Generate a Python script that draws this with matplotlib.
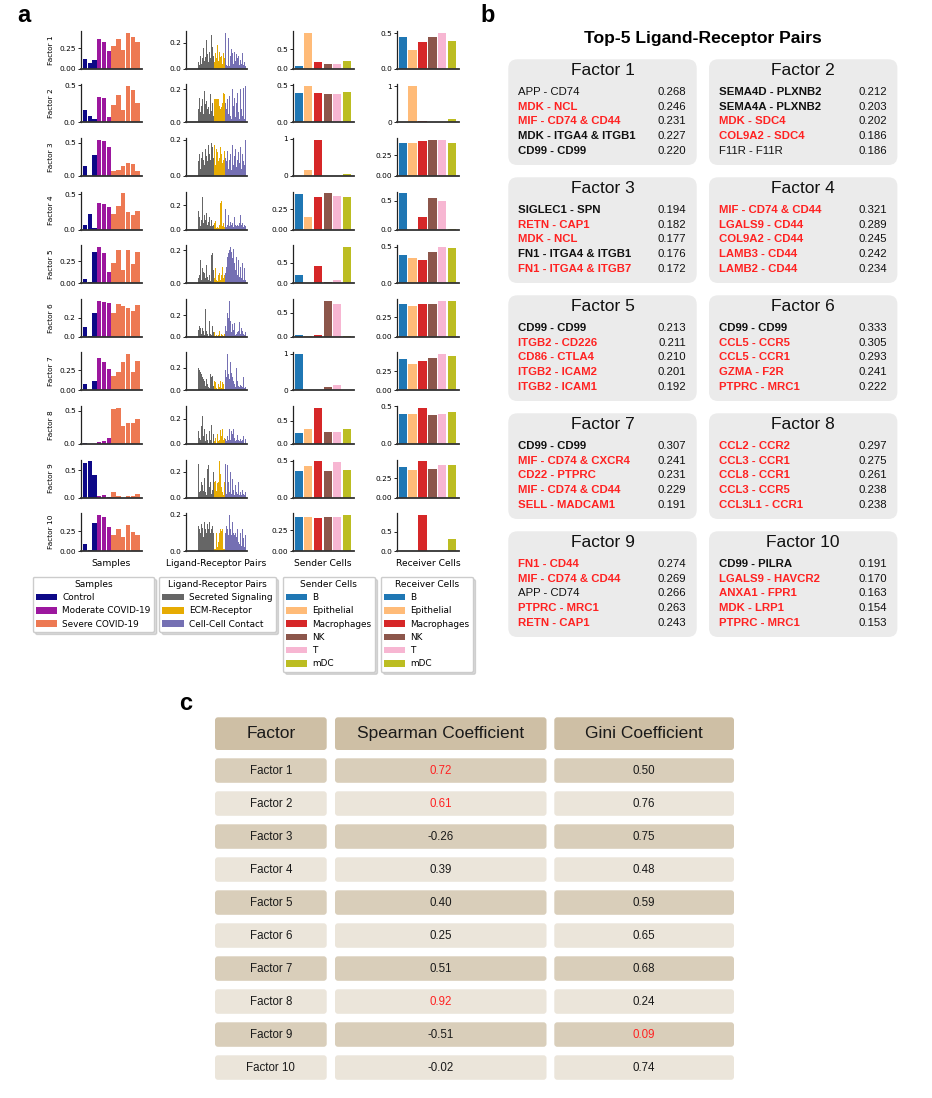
import matplotlib
matplotlib.use("Agg")
import matplotlib.pyplot as plt
from matplotlib.patches import FancyBboxPatch, Patch
from matplotlib.ticker import MaxNLocator

W, H = 932, 1098

# ---------------- panel a data ----------------
sample_groups = ["Control", "Moderate COVID-19", "Severe COVID-19"]
sample_colors = ["#0d0887", "#9c179e", "#ed7953"]
sample_group_of = [0, 0, 0, 1, 1, 1, 2, 2, 2, 2, 2, 2]

samples_loadings = [
    [0.12, 0.07, 0.10, 0.36, 0.33, 0.21, 0.27, 0.36, 0.23, 0.44, 0.39, 0.32],
    [0.17, 0.08, 0.045, 0.34, 0.33, 0.07, 0.23, 0.37, 0.17, 0.49, 0.44, 0.26],
    [0.15, 0.0, 0.31, 0.545, 0.525, 0.44, 0.076, 0.086, 0.15, 0.197, 0.177, 0.076],
    [0.06, 0.215, 0.02, 0.37, 0.36, 0.32, 0.22, 0.33, 0.51, 0.245, 0.21, 0.26],
    [0.046, 0.015, 0.36, 0.415, 0.35, 0.127, 0.23, 0.38, 0.15, 0.38, 0.22, 0.36],
    [0.098, 0.01, 0.245, 0.38, 0.36, 0.35, 0.245, 0.34, 0.32, 0.30, 0.27, 0.33],
    [0.08, 0.0, 0.117, 0.40, 0.354, 0.267, 0.18, 0.23, 0.354, 0.454, 0.23, 0.367],
    [0.01, 0.005, 0.005, 0.03, 0.046, 0.09, 0.53, 0.55, 0.275, 0.32, 0.32, 0.38],
    [0.634, 0.67, 0.41, 0.03, 0.04, 0.01, 0.10, 0.03, 0.0, 0.03, 0.03, 0.07],
    [0.093, 0.02, 0.36, 0.46, 0.43, 0.30, 0.20, 0.284, 0.18, 0.326, 0.24, 0.20],
]

lr_groups = ["Secreted Signaling", "ECM-Receptor", "Cell-Cell Contact"]
lr_colors = ["#666666", "#e6ab02", "#7570b3"]

# loadings in hundredths
lr_secreted = [
    [3, 2, 18, 4, 3, 2, 4, 5, 14, 22, 5, 3, 10, 4, 8, 16, 6, 9, 22, 11, 5, 13, 8, 26, 17, 10],
    [8, 10, 12, 0, 0, 0, 0, 9, 4, 13, 8, 15, 6, 10, 14, 5, 19, 11, 13, 8, 9, 5, 17, 7, 12, 4],
    [14, 4, 10, 8, 12, 5, 9, 11, 6, 14, 8, 12, 4, 10, 13, 9, 6, 15, 11, 8, 17, 12, 9, 18, 16, 10],
    [14, 4, 12, 10, 13, 6, 30, 9, 12, 4, 15, 10, 3, 8, 27, 5, 12, 8, 14, 4, 6, 10, 3, 8, 3, 4],
    [1, 0, 1, 13, 2, 3, 8, 4, 10, 12, 3, 5, 14, 2, 9, 7, 6, 3, 11, 4, 2, 5, 1, 17, 18, 8],
    [1, 2, 10, 1, 29, 3, 31, 2, 22, 10, 6, 10, 8, 3, 8, 5, 2, 26, 5, 3, 1, 15, 3, 2, 10, 4],
    [1, 1, 12, 1, 1, 11, 1, 1, 24, 22, 20, 18, 16, 14, 12, 10, 8, 4, 10, 6, 3, 2, 14, 12, 13, 4],
    [1, 0, 2, 5, 28, 12, 29, 24, 18, 20, 10, 5, 3, 14, 22, 6, 12, 2, 8, 3, 0, 10, 3, 15, 1, 8],
    [1, 4, 7, 2, 10, 3, 15, 5, 2, 12, 26, 4, 5, 12, 10, 5, 15, 4, 2, 22, 25, 8, 12, 3, 6, 20],
    [1, 15, 14, 15, 1, 14, 15, 13, 10, 15, 14, 12, 10, 15, 13, 8, 16, 12, 10, 15, 12, 16, 10, 12, 14, 10],
]
lr_ecm = [
    [5, 12, 8, 18, 6, 13, 9, 10, 4, 12, 8],
    [14, 14, 14, 14, 14, 10, 8, 9, 12, 18, 17],
    [17, 6, 15, 13, 8, 10, 16, 12, 7, 9, 14],
    [5, 7, 1, 2, 1, 4, 22, 24, 3, 5, 2],
    [3, 9, 2, 1, 5, 6, 2, 5, 10, 3, 5],
    [4, 1, 2, 1, 2, 5, 1, 3, 2, 1, 3],
    [8, 7, 2, 1, 6, 3, 8, 2, 7, 6, 1],
    [2, 5, 0, 8, 2, 3, 11, 6, 12, 3, 5],
    [12, 13, 5, 11, 12, 28, 18, 8, 4, 2, 12],
    [1, 1, 10, 2, 5, 10, 12, 11, 12, 1, 1],
]
lr_contact = [
    [28, 3, 2, 24, 2, 10, 15, 12, 4, 13, 6, 11, 8, 10, 3, 7, 4, 12, 3, 5, 2],
    [12, 8, 14, 5, 16, 4, 2, 20, 10, 15, 3, 12, 18, 6, 2, 20, 8, 4, 21, 2, 22],
    [10, 8, 14, 4, 9, 12, 3, 17, 6, 11, 15, 5, 9, 13, 7, 16, 4, 12, 8, 6, 20],
    [17, 2, 4, 12, 3, 6, 4, 5, 2, 10, 4, 3, 4, 3, 5, 12, 4, 5, 2, 4, 3],
    [6, 10, 16, 18, 20, 22, 19, 15, 21, 12, 8, 16, 5, 14, 4, 10, 3, 12, 2, 9, 2],
    [10, 5, 22, 18, 34, 15, 4, 12, 6, 13, 2, 3, 4, 5, 14, 3, 8, 5, 3, 2, 4],
    [18, 12, 32, 14, 10, 25, 15, 12, 8, 6, 3, 20, 8, 4, 3, 5, 4, 3, 12, 2, 3],
    [4, 2, 6, 3, 12, 3, 10, 8, 12, 5, 2, 3, 7, 3, 2, 4, 2, 3, 6, 1, 4],
    [26, 3, 25, 12, 4, 20, 3, 14, 6, 2, 10, 4, 3, 12, 2, 4, 2, 6, 3, 2, 4],
    [10, 14, 12, 9, 20, 12, 9, 16, 10, 9, 10, 8, 12, 5, 4, 10, 3, 12, 7, 2, 9],
]

cell_types = ["B", "Epithelial", "Macrophages", "NK", "T", "mDC"]
cell_colors = ["#1f77b4", "#ffbb78", "#d62728", "#8c564b", "#f7b6d2", "#bcbd22"]

sender_loadings = [
    [0.07, 0.93, 0.18, 0.12, 0.12, 0.20],
    [0.40, 0.49, 0.40, 0.386, 0.38, 0.41],
    [0.01, 0.155, 0.98, 0.01, 0.005, 0.05],
    [0.44, 0.15, 0.40, 0.45, 0.42, 0.40],
    [0.197, 0.0, 0.42, 0.03, 0.074, 0.885],
    [0.03, 0.01, 0.03, 0.757, 0.69, 0.01],
    [0.99, 0.0, 0.02, 0.09, 0.156, 0.02],
    [0.24, 0.326, 0.78, 0.26, 0.26, 0.32],
    [0.357, 0.424, 0.49, 0.357, 0.477, 0.37],
    [0.41, 0.41, 0.397, 0.41, 0.40, 0.43],
]
receiver_loadings = [
    [0.45, 0.26, 0.37, 0.45, 0.51, 0.385],
    [0.0, 1.0, 0.03, 0.0, 0.0, 0.083],
    [0.40, 0.40, 0.426, 0.44, 0.44, 0.40],
    [0.63, 0.0, 0.215, 0.55, 0.50, 0.01],
    [0.385, 0.344, 0.317, 0.427, 0.495, 0.48],
    [0.41, 0.386, 0.41, 0.42, 0.46, 0.45],
    [0.405, 0.34, 0.38, 0.42, 0.47, 0.444],
    [0.40, 0.40, 0.478, 0.385, 0.40, 0.425],
    [0.40, 0.36, 0.47, 0.37, 0.42, 0.42],
    [0.0, 0.0, 0.94, 0.0, 0.0, 0.32],
]

# ---------------- panel b data ----------------
top_pairs = [
    ["APP - CD74", "MDK - NCL", "MIF - CD74 & CD44", "MDK - ITGA4 & ITGB1", "CD99 - CD99"],
    ["SEMA4D - PLXNB2", "SEMA4A - PLXNB2", "MDK - SDC4", "COL9A2 - SDC4", "F11R - F11R"],
    ["SIGLEC1 - SPN", "RETN - CAP1", "MDK - NCL", "FN1 - ITGA4 & ITGB1", "FN1 - ITGA4 & ITGB7"],
    ["MIF - CD74 & CD44", "LGALS9 - CD44", "COL9A2 - CD44", "LAMB3 - CD44", "LAMB2 - CD44"],
    ["CD99 - CD99", "ITGB2 - CD226", "CD86 - CTLA4", "ITGB2 - ICAM2", "ITGB2 - ICAM1"],
    ["CD99 - CD99", "CCL5 - CCR5", "CCL5 - CCR1", "GZMA - F2R", "PTPRC - MRC1"],
    ["CD99 - CD99", "MIF - CD74 & CXCR4", "CD22 - PTPRC", "MIF - CD74 & CD44", "SELL - MADCAM1"],
    ["CCL2 - CCR2", "CCL3 - CCR1", "CCL8 - CCR1", "CCL3 - CCR5", "CCL3L1 - CCR1"],
    ["FN1 - CD44", "MIF - CD74 & CD44", "APP - CD74", "PTPRC - MRC1", "RETN - CAP1"],
    ["CD99 - PILRA", "LGALS9 - HAVCR2", "ANXA1 - FPR1", "MDK - LRP1", "PTPRC - MRC1"],
]
top_scores = [
    [0.268, 0.246, 0.231, 0.227, 0.220],
    [0.212, 0.203, 0.202, 0.186, 0.186],
    [0.194, 0.182, 0.177, 0.176, 0.172],
    [0.321, 0.289, 0.245, 0.242, 0.234],
    [0.213, 0.211, 0.210, 0.201, 0.192],
    [0.333, 0.305, 0.293, 0.241, 0.222],
    [0.307, 0.241, 0.231, 0.229, 0.191],
    [0.297, 0.275, 0.261, 0.238, 0.238],
    [0.274, 0.269, 0.266, 0.263, 0.243],
    [0.191, 0.170, 0.163, 0.154, 0.153],
]
# n = normal black, k = bold black, r = bold red
top_styles = ["nrrkk", "kkrrn", "krrkr", "rrrrr", "krrrr",
              "krrrr", "krrrr", "rrrrr", "rrnrr", "krrrr"]

# ---------------- panel c data ----------------
table_factors = [f"Factor {i}" for i in range(1, 11)]
spearman = [0.72, 0.61, -0.26, 0.39, 0.40, 0.25, 0.51, 0.92, -0.51, -0.02]
gini = [0.50, 0.76, 0.75, 0.48, 0.59, 0.65, 0.68, 0.24, 0.09, 0.74]
spearman_hi = [1, 1, 0, 0, 0, 0, 0, 1, 0, 0]
gini_hi = [0, 0, 0, 0, 0, 0, 0, 0, 1, 0]

ARIAL = "Liberation Sans"
RED = "#ff2222"

fig = plt.figure(figsize=(W / 100, H / 100), dpi=100)

# overlay in pixel coordinates for panels b and c
ov = fig.add_axes([0, 0, 1, 1])
ov.set_xlim(0, W)
ov.set_ylim(H, 0)
ov.axis("off")


def px_axes(left, top, right, bottom):
    return fig.add_axes([left / W, 1 - bottom / H, (right - left) / W, (bottom - top) / H])


def style_small(ax):
    for s in ["top", "right"]:
        ax.spines[s].set_visible(False)
    ax.spines["left"].set_linewidth(0.9)
    ax.spines["left"].set_color("#222222")
    ax.spines["bottom"].set_linewidth(1.3)
    ax.spines["bottom"].set_color("#333333")
    ax.set_xticks([])
    ax.yaxis.set_major_locator(MaxNLocator(nbins=2, steps=[1, 2, 2.5, 5, 10]))
    ax.tick_params(axis="y", labelsize=5.3, length=2, width=0.6, pad=1.5)


# ---------------- panel a ----------------
col_x = [(80.7, 142), (186, 247), (293, 353.5), (397, 459)]
for i in range(10):
    base = 68.7 + 53.6 * i
    top = base - 38

    ax = px_axes(col_x[0][0], top, col_x[0][1], base)
    ax.bar(range(12), samples_loadings[i], width=0.9,
           color=[sample_colors[g] for g in sample_group_of])
    ax.set_xlim(-0.9, 11.95)
    style_small(ax)

    ax = px_axes(col_x[1][0], top, col_x[1][1], base)
    vals = [v / 100 for v in lr_secreted[i] + lr_ecm[i] + lr_contact[i]]
    cols = ([lr_colors[0]] * len(lr_secreted[i]) + [lr_colors[1]] * len(lr_ecm[i])
            + [lr_colors[2]] * len(lr_contact[i]))
    ax.bar(range(len(vals)), vals, width=0.8, color=cols)
    ax.set_xlim(-2, len(vals) + 0.5)
    style_small(ax)

    for j, data in enumerate([sender_loadings, receiver_loadings]):
        ax = px_axes(col_x[2 + j][0], top, col_x[2 + j][1], base)
        ax.bar(range(6), data[i], width=0.83, color=cell_colors)
        ax.set_xlim(-0.57, 5.68)
        style_small(ax)

    fig.text(51 / W, 1 - (base - 19) / H, f"Factor {i + 1}", rotation=90,
             ha="center", va="center", fontsize=5.3)

for (l, r), name in zip(col_x, ["Samples", "Ligand-Receptor Pairs", "Sender Cells", "Receiver Cells"]):
    fig.text((l + r) / 2 / W, 1 - 563.3 / H, name, ha="center", va="center", fontsize=6.6)

legend_specs = [
    ("Samples", sample_groups, sample_colors, 32.7),
    ("Ligand-Receptor Pairs", lr_groups, lr_colors, 159.3),
    ("Sender Cells", cell_types, cell_colors, 282.7),
    ("Receiver Cells", cell_types, cell_colors, 380.7),
]
for title, labels, cols, x in legend_specs:
    handles = [Patch(facecolor=c, label=l) for c, l in zip(cols, labels)]
    fig.legend(handles=handles, title=title, loc="upper left",
               bbox_to_anchor=(x / W, 1 - 576.7 / H), fontsize=6.4, title_fontsize=6.5,
               handlelength=2.4, handleheight=0.75, handletextpad=0.6, borderpad=0.35,
               labelspacing=0.48, borderaxespad=0, fancybox=True,
               shadow={"color": "0.6", "alpha": 0.35},
               framealpha=1, edgecolor="0.8")

# panel letters
for letter, x, y in [("a", 24, 16), ("b", 488, 16), ("c", 186, 704)]:
    ov.text(x, y, letter, fontsize=17, fontweight="bold", family=ARIAL,
            ha="center", va="center")

# ---------------- panel b ----------------
ov.text(702.5, 38.5, "Top-5 Ligand-Receptor Pairs", fontsize=12.6, fontweight="bold",
        family=ARIAL, ha="center", va="center")
for k in range(10):
    r, c = divmod(k, 2)
    left = [508.3, 709][c]
    top = 59.3 + 118 * r
    ov.add_patch(FancyBboxPatch((left, top), 188.4, 105.7,
                                boxstyle="round,pad=0,rounding_size=9",
                                fc="#ebebeb", ec="none"))
    ov.text(left + 94.2, top + 11, f"Factor {k + 1}", fontsize=12.5, family=ARIAL,
            ha="center", va="center", color="#111111")
    for j in range(5):
        y = top + 32.4 + 14.85 * j
        st = top_styles[k][j]
        ov.text(left + 10, y, top_pairs[k][j], fontsize=8.2, family=ARIAL,
                ha="left", va="center", color=RED if st == "r" else "#111111",
                fontweight="normal" if st == "n" else "bold")
        ov.text(left + 177.7, y, f"{top_scores[k][j]:.3f}", fontsize=8.2,
                family=ARIAL, ha="right", va="center", color="#111111")

# ---------------- panel c ----------------
tcols = [(215, 326.7), (335, 546.5), (554.3, 734)]
headers = ["Factor", "Spearman Coefficient", "Gini Coefficient"]
for (l, r), h in zip(tcols, headers):
    ov.add_patch(FancyBboxPatch((l, 717.3), r - l, 32.7,
                                boxstyle="round,pad=0,rounding_size=3",
                                fc="#cebfa5", ec="none"))
    ov.text((l + r) / 2, 733.3, h, fontsize=12.5, family=ARIAL,
            ha="center", va="center", color="#1a1a1a")

for i in range(10):
    top = 758.3 + 33 * i
    fc = "#d9ceba" if i % 2 == 0 else "#ebe5da"
    cells = [
        (table_factors[i], 0),
        (f"{spearman[i]:.2f}", spearman_hi[i]),
        (f"{gini[i]:.2f}", gini_hi[i]),
    ]
    for (l, r), (txt, hi) in zip(tcols, cells):
        ov.add_patch(FancyBboxPatch((l, top), r - l, 24.5,
                                    boxstyle="round,pad=0,rounding_size=3",
                                    fc=fc, ec="none"))
        ov.text((l + r) / 2, top + 12.5, txt, fontsize=8.3, family=ARIAL,
                ha="center", va="center", color=RED if hi else "#1a1a1a")

fig.savefig("out.png", dpi=100)
